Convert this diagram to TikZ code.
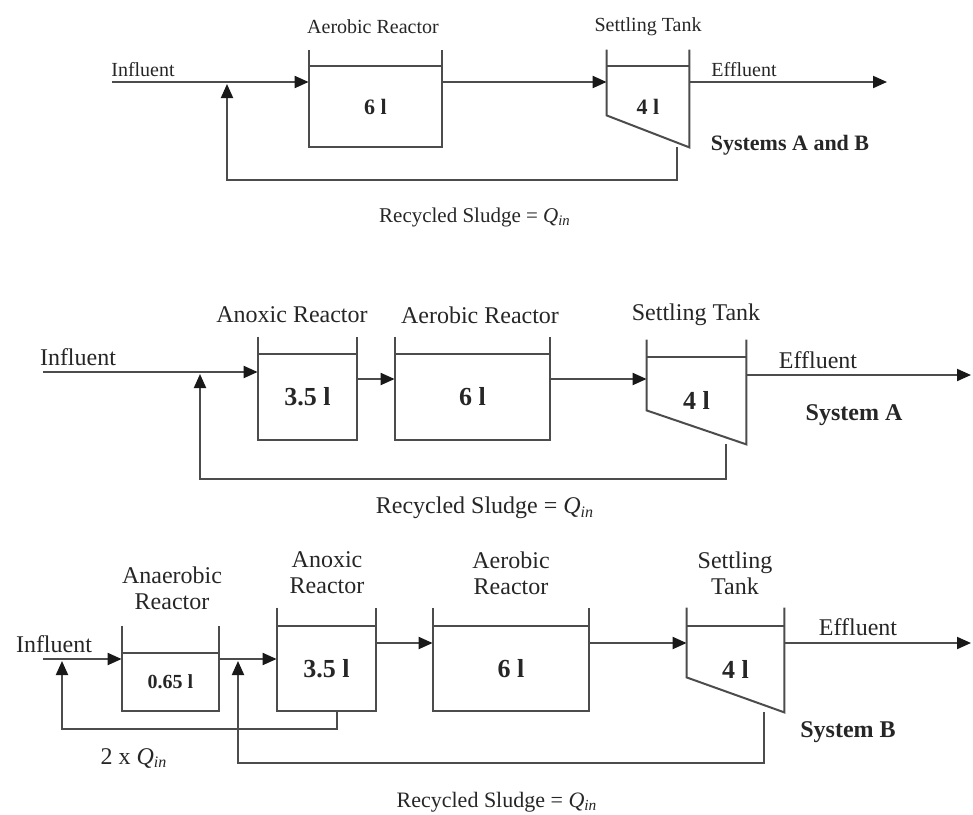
\documentclass[tikz,border=0pt]{standalone}
\usepackage{fontspec}
\setmainfont{Liberation Serif}
\usetikzlibrary{arrows.meta}

\newcommand{\qin}{\textit{Q}\textsubscript{\textit{in}}}

\tikzset{
  vessel/.style={rectangle, inner sep=0pt, text=black!85, font=\bfseries},
  pipe/.style={line width=1pt, draw=black!70},
  flow/.style={pipe, -{Triangle[length=7pt,width=6pt,color=black!90]}},
  lbl/.style={inner sep=0pt, align=center, text=black!85},
}

\begin{document}
\begin{tikzpicture}[x=0.5pt,y=-0.5pt]
  \useasboundingbox (0,0) rectangle (973,814);

  % Systems A and B
  \node[vessel, minimum width=66.5pt, minimum height=40.5pt, font=\fontsize{11}{12}\bfseries] (aer1) at (375.5,106.5) {6 l};
  \node[vessel, minimum width=41pt, minimum height=40.5pt, font=\fontsize{11}{12}\bfseries] (st1) at (648,106.5) {4 l};

  \node[lbl, font=\fontsize{10}{11}\selectfont] (aer1l) at (373,27) {Aerobic Reactor};
  \node[lbl, font=\fontsize{10}{11}\selectfont] (st1l) at (648,27) {Settling Tank};
  \node[lbl, font=\fontsize{10}{11}\selectfont] (in1) at (143,70) {Influent};
  \node[lbl, font=\fontsize{10}{11}\selectfont] (ef1) at (744,70) {Effluent};
  \node[lbl, font=\fontsize{11}{12}\bfseries] (sys1) at (790,145) {Systems A and B};
  \node[lbl, font=\fontsize{10.5}{12}\selectfont] (rs1) at (475,217) {Recycled Sludge = \qin};

  \coordinate (src1) at (112,82);
  \coordinate (j1) at (227,82);
  \coordinate (out1) at (887,82);
  \coordinate (r1) at (227,180);

  \draw[flow] (src1) -- (aer1.west |- src1);
  \draw[flow] (aer1.east |- src1) -- (st1.west |- src1);
  \draw[flow] (st1.east |- src1) -- (out1);
  \draw[flow] ([xshift=-6pt]st1.south east) |- (r1) -- ([yshift=-1pt]j1);

  % System A
  \node[vessel, minimum width=49.5pt, minimum height=43pt, font=\fontsize{13}{14}\bfseries] (anx2) at (307.5,397) {3.5 l};
  \node[vessel, minimum width=77.5pt, minimum height=43pt, font=\fontsize{13}{14}\bfseries] (aer2) at (472.5,397) {6 l};
  \node[vessel, minimum width=49.5pt, minimum height=43.5pt, font=\fontsize{13}{14}\bfseries] (st2) at (696.5,400.5) {4 l};

  \node[lbl, font=\fontsize{12}{13}\selectfont] (anx2l) at (292,315) {Anoxic Reactor};
  \node[lbl, font=\fontsize{12}{13}\selectfont] (aer2l) at (480,315) {Aerobic Reactor};
  \node[lbl, font=\fontsize{12}{13}\selectfont] (st2l) at (696,315) {Settling Tank};
  \node[lbl, font=\fontsize{12}{13}\selectfont] (in2) at (78,357) {Influent};
  \node[lbl, font=\fontsize{12}{13}\selectfont] (ef2) at (818,360) {Effluent};
  \node[lbl, font=\fontsize{12}{13}\bfseries] (sys2) at (854,415) {System A};
  \node[lbl, font=\fontsize{12}{13}\selectfont] (rs2) at (485,508) {Recycled Sludge = \qin};

  \coordinate (src2) at (43,372);
  \coordinate (j2) at (200,372);
  \coordinate (out2) at (971,375);
  \coordinate (r2) at (200,479);

  \draw[flow] (src2) -- (anx2.west |- src2);
  \draw[flow] ([yshift=9pt]anx2.east) -- ([yshift=9pt]anx2.east -| aer2.west);
  \draw[flow] ([yshift=9pt]aer2.east) -- ([yshift=9pt]aer2.east -| st2.west);
  \draw[flow] (st2.east |- out2) -- (out2);
  \draw[flow] ([xshift=-10pt]st2.south east) |- (r2) -- ([yshift=-1pt]j2);

  % System B
  \node[vessel, minimum width=48.5pt, minimum height=29pt, font=\fontsize{10}{11}\bfseries] (ana3) at (170.5,682) {0.65 l};
  \node[vessel, minimum width=49.5pt, minimum height=42.5pt, font=\fontsize{13}{14}\bfseries] (anx3) at (326.5,668.5) {3.5 l};
  \node[vessel, minimum width=78pt, minimum height=42.5pt, font=\fontsize{13}{14}\bfseries] (aer3) at (511,668.5) {6 l};
  \node[vessel, minimum width=48.5pt, minimum height=43pt, font=\fontsize{13}{14}\bfseries] (st3) at (735.5,669) {4 l};

  \node[lbl, font=\fontsize{12}{13}\selectfont] (ana3l) at (172,588) {Anaerobic\\Reactor};
  \node[lbl, font=\fontsize{12}{13}\selectfont] (anx3l) at (327,573) {Anoxic\\Reactor};
  \node[lbl, font=\fontsize{12}{13}\selectfont] (aer3l) at (511,573) {Aerobic\\Reactor};
  \node[lbl, font=\fontsize{12}{13}\selectfont] (st3l) at (735,573) {Settling\\Tank};
  \node[lbl, font=\fontsize{12}{13}\selectfont] (in3) at (54,644) {Influent};
  \node[lbl, font=\fontsize{12}{13}\selectfont] (ef3) at (858,627) {Effluent};
  \node[lbl, font=\fontsize{12}{13}\bfseries] (sys3) at (848,732) {System B};
  \node[lbl, font=\fontsize{12}{13}\selectfont] (two3) at (134,758) {2 x \qin};
  \node[lbl, font=\fontsize{11}{12}\selectfont] (rs3) at (497,802) {Recycled Sludge = \qin};

  \coordinate (src3) at (43,659);
  \coordinate (j3a) at (62,659);
  \coordinate (j3b) at (238,659);
  \coordinate (out3) at (971,643);
  \coordinate (r3a) at (62,729);
  \coordinate (r3b) at (238,763);

  \draw[flow] (src3) -- (ana3.west |- src3);
  \draw[flow] (ana3.east |- src3) -- (anx3.west |- src3);
  \draw[flow] (anx3.east |- out3) -- (aer3.west |- out3);
  \draw[flow] (aer3.east |- out3) -- (st3.west |- out3);
  \draw[flow] (st3.east |- out3) -- (out3);
  \draw[flow] ([xshift=5.25pt]anx3.south) |- (r3a) -- ([yshift=-1pt]j3a);
  \draw[flow] ([xshift=-10pt]st3.south east) |- (r3b) -- ([yshift=-1pt]j3b);

  % tank outlines
  \foreach \v/\h in {aer1/8pt, anx2/8.5pt, aer2/8.5pt, ana3/13.5pt, anx3/9pt, aer3/9pt} {
    \draw[pipe] ([yshift=\h]\v.north west) |- (\v.south east) -- ([yshift=\h]\v.north east);
    \draw[pipe] (\v.north west) -- (\v.north east);
  }
  \foreach \v/\h/\s in {st1/8pt/16pt, st2/8.5pt/17pt, st3/9pt/17.5pt} {
    \draw[pipe] ([yshift=\h]\v.north west) -- ([yshift=\s]\v.south west) -- (\v.south east) -- ([yshift=\h]\v.north east);
    \draw[pipe] (\v.north west) -- (\v.north east);
  }
\end{tikzpicture}
\end{document}
